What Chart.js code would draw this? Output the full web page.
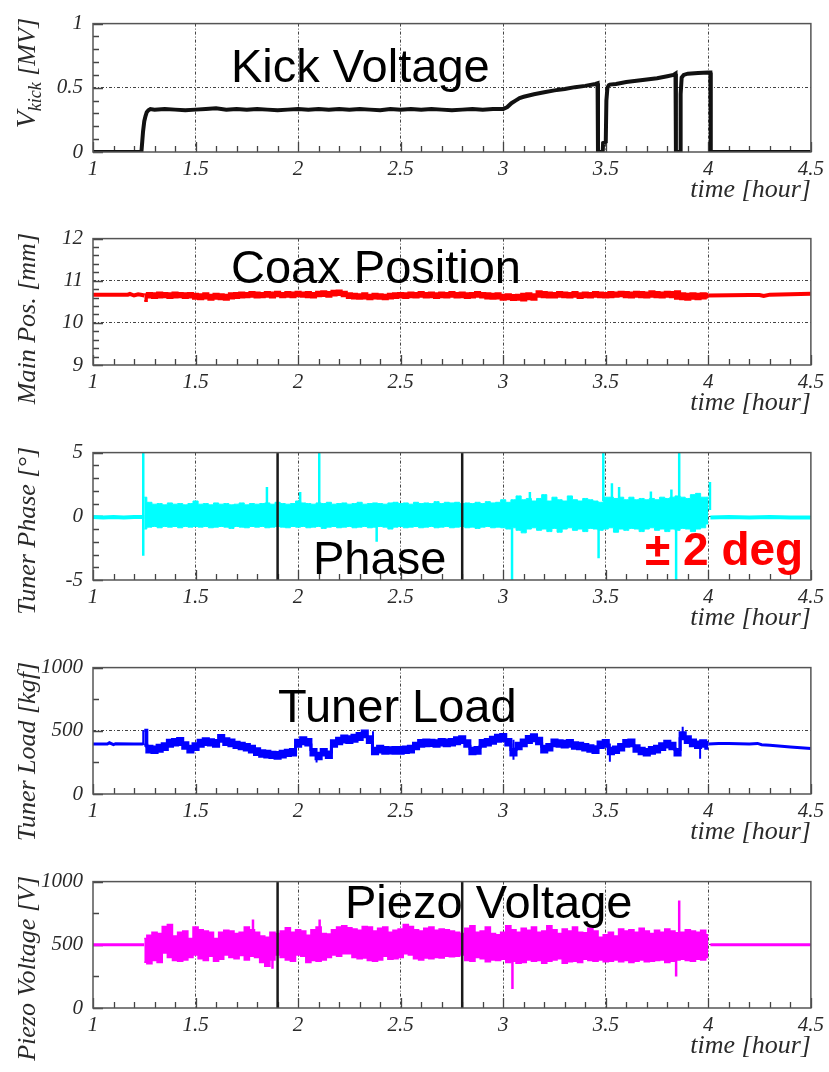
<!DOCTYPE html>
<html><head><meta charset="utf-8">
<script src="https://cdn.jsdelivr.net/npm/chart.js@4.4.0/dist/chart.umd.min.js"></script>
<style>
html,body{margin:0;padding:0;background:#fff;width:829px;height:1072px;overflow:hidden;position:relative;}
canvas{position:absolute;left:0;}
</style></head><body>
<script>
// ---------- DATA ----------
const xTickValues = [1,1.5,2,2.5,3,3.5,4,4.5];
const xTickLabels = ['1','1.5','2','2.5','3','3.5','4','4.5'];
const markerTimes = [1.9, 2.8];

const panelTitles = ['Kick Voltage','Coax Position','Phase','Tuner Load','Piezo Voltage'];
const phaseNote = '\u00B1 2 deg';
const xTitle = 'time [hour]';

// Panel 1: kick voltage
const kickYTicks = [0,0.5,1];
const kickYLabels = ['0','0.5','1'];
const kickTimes = [1.0,1.236,1.240,1.244,1.250,1.256,1.262,1.270,1.28,1.3,
 1.35,1.4,1.45,1.5,1.55,1.6,1.65,1.7,1.75,1.8,1.85,1.9,1.95,2.0,2.05,2.1,2.15,2.2,2.25,2.3,2.35,2.4,2.45,2.5,2.55,2.6,2.65,2.7,2.75,2.8,2.85,2.9,2.95,
 3.0,3.02,3.04,3.06,3.08,3.1,3.15,3.2,3.25,3.3,3.35,3.4,3.45,
 3.46,3.462,3.485,3.487,3.5,3.503,3.508,3.515,3.52,
 3.55,3.6,3.65,3.7,3.75,3.8,3.83,3.84,3.842,3.862,3.865,3.87,3.88,3.9,3.95,4.0,4.01,4.012,4.5];
const kickValues = [0,0,0.08,0.16,0.24,0.28,0.31,0.325,0.335,0.33,
 0.335,0.33,0.325,0.33,0.335,0.34,0.33,0.335,0.33,0.335,0.33,0.325,0.33,0.335,0.33,0.335,0.33,0.335,0.33,0.335,0.33,0.325,0.335,0.33,0.335,0.33,0.335,0.33,0.325,0.33,0.335,0.33,0.335,
 0.335,0.35,0.38,0.40,0.42,0.43,0.45,0.465,0.48,0.49,0.505,0.515,0.53,
 0.535,0,0,0.07,0.08,0.4,0.5,0.52,0.525,
 0.53,0.545,0.555,0.565,0.575,0.59,0.6,0.61,0,0,0.45,0.58,0.6,0.61,0.615,0.62,0.62,0,0];

// common sampling times of the noisy sections
const sampleTimes = [
 1.25,1.275,1.3,1.325,1.35,1.375,1.4,1.425,1.45,1.475,
 1.5,1.525,1.55,1.575,1.6,1.625,1.65,1.675,1.7,1.725,
 1.75,1.775,1.8,1.825,1.85,1.875,1.9,1.925,1.95,1.975,
 2,2.025,2.05,2.075,2.1,2.125,2.15,2.175,2.2,2.225,
 2.25,2.275,2.3,2.325,2.35,2.375,2.4,2.425,2.45,2.475,
 2.5,2.525,2.55,2.575,2.6,2.625,2.65,2.675,2.7,2.725,
 2.75,2.775,2.8,2.825,2.85,2.875,2.9,2.925,2.95,2.975,
 3,3.025,3.05,3.075,3.1,3.125,3.15,3.175,3.2,3.225,
 3.25,3.275,3.3,3.325,3.35,3.375,3.4,3.425,3.45,3.475,
 3.5,3.525,3.55,3.575,3.6,3.625,3.65,3.675,3.7,3.725,
 3.75,3.775,3.8,3.825,3.85,3.875,3.9,3.925,3.95,3.975,
 4];

// Panel 2: coax position
const coaxYTicks = [9,10,11,12];
const coaxYLabels = ['9','10','11','12'];
const coaxPreTimes = [1.0,1.17,1.18,1.2,1.22,1.24,1.25];
const coaxPreValues = [10.67,10.67,10.69,10.65,10.68,10.66,10.65];
const coaxPostTimes = [4.0,4.1,4.2,4.25,4.27,4.3,4.4,4.5];
const coaxPostValues = [10.65,10.655,10.66,10.66,10.64,10.67,10.68,10.69];
const coaxHi = [
 10.68,10.71,10.70,10.72,10.71,10.70,10.72,10.71,10.70,10.71,
 10.69,10.68,10.70,10.67,10.69,10.68,10.67,10.70,10.71,10.72,
 10.71,10.73,10.72,10.71,10.73,10.72,10.74,10.71,10.73,10.72,
 10.74,10.72,10.73,10.71,10.74,10.75,10.73,10.76,10.77,10.74,
 10.70,10.69,10.68,10.70,10.67,10.69,10.68,10.67,10.69,10.70,
 10.71,10.70,10.72,10.71,10.73,10.71,10.72,10.70,10.72,10.71,
 10.73,10.71,10.72,10.70,10.71,10.73,10.71,10.70,10.69,10.70,
 10.67,10.68,10.66,10.67,10.69,10.70,10.68,10.75,10.73,10.72,
 10.71,10.73,10.72,10.71,10.73,10.70,10.72,10.71,10.73,10.72,
 10.71,10.73,10.72,10.74,10.73,10.72,10.74,10.73,10.72,10.75,
 10.73,10.72,10.74,10.73,10.75,10.70,10.69,10.70,10.69,10.70,
 10.69];
const coaxLo = [
 10.52,10.60,10.59,10.60,10.61,10.59,10.60,10.61,10.59,10.60,
 10.57,10.56,10.58,10.55,10.57,10.56,10.55,10.58,10.59,10.60,
 10.61,10.62,10.60,10.61,10.62,10.60,10.63,10.61,10.62,10.61,
 10.63,10.62,10.61,10.60,10.63,10.64,10.62,10.65,10.66,10.63,
 10.59,10.58,10.57,10.58,10.56,10.58,10.57,10.56,10.58,10.59,
 10.60,10.59,10.61,10.60,10.62,10.60,10.61,10.59,10.61,10.60,
 10.62,10.60,10.61,10.59,10.60,10.62,10.60,10.58,10.57,10.58,
 10.55,10.56,10.54,10.55,10.53,10.56,10.55,10.62,10.61,10.60,
 10.60,10.62,10.61,10.60,10.62,10.59,10.61,10.60,10.62,10.61,
 10.60,10.61,10.62,10.63,10.61,10.60,10.62,10.61,10.60,10.62,
 10.61,10.60,10.62,10.61,10.57,10.56,10.55,10.57,10.56,10.58,
 10.60];

// Panel 3: tuner phase
const phaseYTicks = [-5,0,5];
const phaseYLabels = ['-5','0','5'];
const phasePreTimes = [1.0,1.05,1.1,1.15,1.2,1.25];
const phasePreValues = [-0.05,-0.1,-0.05,-0.1,-0.05,-0.05];
const phasePostTimes = [4.01,4.1,4.2,4.3,4.4,4.5];
const phasePostValues = [-0.1,-0.05,-0.1,-0.05,-0.1,-0.1];
const phaseHi = [
 1.5,1.1,0.95,1.0,0.9,1.05,0.95,1.0,0.9,1.0,
 1.2,0.95,1.0,0.9,1.05,0.95,1.0,0.9,0.95,1.05,
 0.9,1.0,0.95,1.0,1.05,0.95,1.1,1.0,0.95,1.0,
 1.2,1.05,1.0,0.95,1.05,1.0,1.1,0.95,1.0,1.05,
 0.95,1.0,1.1,0.95,1.0,1.05,1.0,0.95,1.05,1.1,
 1.0,1.05,0.95,1.1,1.0,1.05,1.0,1.15,1.0,1.1,
 1.05,1.1,1.0,1.05,1.0,1.1,1.0,1.15,1.05,1.1,
 1.3,1.1,1.3,1.6,1.3,1.4,1.2,1.4,1.7,1.2,
 1.5,1.3,1.2,1.6,1.3,1.2,1.4,1.3,1.2,1.1,
 1.5,1.5,1.4,1.5,1.3,1.5,1.3,1.4,1.3,1.4,
 1.3,1.5,1.4,1.5,1.6,1.5,1.4,1.7,1.8,1.5,
 1.5];
const phaseLo = [
 -1.0,-0.85,-0.8,-0.9,-0.8,-0.85,-0.8,-0.9,-0.8,-0.85,
 -0.8,-0.85,-0.8,-0.9,-0.85,-0.8,-0.85,-0.95,-0.8,-0.85,
 -0.9,-0.8,-0.85,-0.8,-0.9,-0.85,-0.8,-0.85,-0.9,-0.8,
 -0.85,-0.8,-0.9,-0.85,-0.8,-0.95,-0.85,-0.8,-0.9,-0.85,
 -0.8,-0.9,-0.85,-0.8,-0.9,-0.85,-0.8,-0.85,-1.0,-0.85,
 -0.8,-0.9,-0.85,-0.8,-0.9,-0.85,-0.8,-0.9,-0.85,-0.8,
 -0.9,-0.85,-0.8,-0.9,-0.85,-0.95,-0.85,-0.8,-0.9,-0.85,
 -0.9,-1.0,-0.9,-1.1,-1.3,-1.0,-0.9,-1.1,-1.0,-1.2,
 -0.95,-1.25,-1.0,-0.9,-1.1,-1.0,-1.2,-0.95,-1.0,-1.1,
 -1.0,-0.9,-1.25,-1.0,-1.1,-0.95,-1.0,-1.2,-1.0,-0.9,
 -1.1,-1.0,-1.2,-1.0,-1.1,-0.95,-1.0,-1.2,-1.0,-0.9,
 -0.6];
const phaseSpikeTimes = [1.245,1.848,2.01,2.103,2.383,3.043,3.13,3.465,3.488,3.53,3.565,3.72,3.82,3.843,3.858,4.008];
const phaseSpikeLo    = [-3.1,0.9,0.9,0.9,-2.0,-5,1.2,-3.3,1.2,1.4,1.4,1.3,1.4,-5,1.5,0.5];
const phaseSpikeHi    = [5,2.3,1.9,5,-0.8,-0.9,1.9,-0.9,5,2.6,2.3,1.95,2.1,-1.0,5,2.7];

// Panel 4: tuner load
const loadYTicks = [0,500,1000];
const loadYLabels = ['0','500','1000'];
const loadPreTimes = [1.0,1.07,1.08,1.1,1.11,1.2,1.24,1.25];
const loadPreValues = [395,395,405,390,398,395,395,400];
const loadPostTimes = [4.0,4.05,4.1,4.2,4.24,4.26,4.3,4.4,4.5];
const loadPostValues = [395,400,400,395,400,390,385,372,360];
const loadHi = [
 505,378,372,385,398,425,432,440,405,378,
 398,425,438,430,424,462,438,428,410,402,
 392,378,358,342,338,330,328,338,346,352,
 425,445,432,352,322,352,332,422,442,458,
 452,464,478,498,452,362,378,368,366,368,
 368,372,378,402,424,428,426,422,432,428,
 432,445,452,422,362,368,424,432,448,464,
 470,432,352,402,428,455,468,442,378,392,
 428,422,418,424,406,402,392,382,374,412,
 424,362,372,392,424,428,382,362,352,368,
 378,398,418,402,352,485,452,428,412,422,
 408];
const loadLo = [
 385,332,328,338,352,378,388,392,362,332,
 352,378,392,388,378,418,392,382,368,358,
 348,332,312,298,292,288,282,292,304,308,
 378,398,388,308,278,308,288,378,398,412,
 408,418,432,452,408,318,332,322,324,322,
 322,328,332,358,378,382,384,378,388,382,
 388,398,408,378,318,322,378,388,402,418,
 422,388,308,358,382,408,422,398,332,348,
 382,378,372,378,362,358,348,338,328,368,
 378,318,328,348,378,382,338,318,308,322,
 332,352,372,358,308,438,408,382,368,378,
 362];
const loadSpikeTimes = [1.245,2.09,2.365,3.05,3.52,3.875,3.96];
const loadSpikeLo    = [390,250,430,270,255,430,278];
const loadSpikeHi    = [505,330,496,430,400,533,420];

// Panel 5: piezo voltage
const piezoYTicks = [0,500,1000];
const piezoYLabels = ['0','500','1000'];
const piezoPreTimes = [1.0,1.25];
const piezoPreValues = [500,500];
const piezoPostTimes = [4.01,4.5];
const piezoPostValues = [500,500];
const piezoHi = [
 549,575,600,590,645,660,570,600,610,550,
 640,620,610,600,550,600,615,610,590,600,
 640,620,600,570,560,600,590,610,635,600,
 620,610,575,620,640,590,585,620,640,650,
 635,625,615,645,640,610,630,640,600,615,
 625,660,645,620,610,630,640,615,625,620,
 610,600,590,630,650,600,610,640,590,580,
 600,650,620,600,630,615,640,600,610,650,
 620,590,625,610,640,600,595,630,610,560,
 580,600,570,625,610,620,600,630,610,590,
 615,600,625,610,595,600,620,610,600,615,
 580];
const piezoLo = [
 361,350,375,360,436,400,375,370,380,400,
 420,390,375,410,370,385,420,400,390,415,
 380,410,400,360,330,380,420,400,380,370,
 420,410,360,375,370,380,400,420,410,430,
 430,400,390,395,375,370,380,410,385,390,
 400,430,420,390,380,395,390,400,395,410,
 405,410,420,375,370,400,390,365,380,375,
 385,360,370,355,360,380,370,375,355,370,
 380,390,355,365,370,360,385,375,370,380,
 365,370,380,365,375,360,370,380,365,370,
 375,380,360,370,380,385,375,370,385,380,
 400];
const piezoSpikeTimes = [1.78,1.875,2.105,3.045,3.843,3.858];
const piezoSpikeLo    = [600,310,600,150,250,600];
const piezoSpikeHi    = [700,420,700,400,400,850];

// ---------- BUILDERS ----------
function pts(xs, ys){ return xs.map((x,i)=>({x:x, y:ys[i]})); }
function lineDs(xs, ys, color, width, order){
  return {data: pts(xs, ys), borderColor: color, backgroundColor: color, borderWidth: width,
    pointRadius: 0, fill: false, tension: 0, order: order};
}
function bandDs(xs, hi, lo, color, width, order){
  return [
    {data: pts(xs, hi), borderColor: color, backgroundColor: color, borderWidth: width, pointRadius: 0, fill: '+1', stepped: 'middle', order: order},
    {data: pts(xs, lo), borderColor: color, backgroundColor: color, borderWidth: width, pointRadius: 0, fill: false, stepped: 'middle', order: order}
  ];
}
function spikeDs(ts, lo, hi, color, width, order){
  const d = [];
  ts.forEach((t,i)=>{ d.push({x:t, y:lo[i]}, {x:t, y:hi[i]}, {x:t, y:null}); });
  return {data: d, borderColor: color, backgroundColor: color, borderWidth: width, pointRadius: 0, fill: false, spanGaps: false, order: order};
}
function markerDs(ts, yMin, yMax){
  const d = [];
  ts.forEach(t=>{ d.push({x:t, y:yMin}, {x:t, y:yMax}, {x:t, y:null}); });
  return {data: d, borderColor: '#1a1a1a', borderWidth: 2.5, pointRadius: 0, fill: false, spanGaps: false, order: -1};
}

// ---------- PLUGIN ----------
const SERIF = '"Liberation Serif", "Times New Roman", serif';
const SANS = '"Liberation Sans", Arial, sans-serif';
const rootPlugin = {
  id: 'root',
  beforeDatasetsDraw(chart, args, o){
    const {ctx, chartArea: a, scales: {x, y}} = chart;
    ctx.save();
    ctx.strokeStyle = '#444'; ctx.lineWidth = 1.3;
    ctx.beginPath();
    const nx = Math.round((x.max - x.min)/o.xMinor);
    for (let i=0;i<=nx;i++){
      const v = x.min + i*o.xMinor;
      const px = Math.round(x.getPixelForValue(v)) + 0.5;
      const major = Math.abs(v/o.xMajor - Math.round(v/o.xMajor)) < 1e-6;
      ctx.moveTo(px, a.bottom); ctx.lineTo(px, a.bottom - (major ? 10 : 6));
    }
    const ny = Math.round((y.max - y.min)/o.yMinor);
    for (let i=0;i<=ny;i++){
      const v = y.min + i*o.yMinor;
      const py = Math.round(y.getPixelForValue(v)) + 0.5;
      const major = Math.abs(v/o.yMajor - Math.round(v/o.yMajor)) < 1e-6;
      ctx.moveTo(a.left, py); ctx.lineTo(a.left + (major ? 10 : 6), py);
    }
    ctx.stroke();
    ctx.restore();
  },
  afterDatasetsDraw(chart, args, o){
    const {ctx, chartArea: a} = chart;
    ctx.save();
    ctx.strokeStyle = '#555'; ctx.lineWidth = 1.5;
    ctx.strokeRect(a.left, a.top, a.right - a.left, a.bottom - a.top);
    (o.labels || []).forEach(l=>{
      ctx.font = l.font; ctx.fillStyle = l.color; ctx.textAlign = 'left'; ctx.textBaseline = 'alphabetic';
      ctx.fillText(l.text, l.x, l.y - o.canvasTop);
    });
    const parts = o.yTitle;
    let total = 0;
    parts.forEach(p=>{ ctx.font = 'italic ' + p.size + 'px ' + SERIF; total += ctx.measureText(p.t).width; });
    ctx.translate(o.yTitleX, o.yTitleEnd - o.canvasTop);
    ctx.rotate(-Math.PI/2);
    ctx.fillStyle = '#2a2a2a'; ctx.textAlign = 'left'; ctx.textBaseline = 'middle';
    let cur = -total;
    parts.forEach(p=>{
      ctx.font = 'italic ' + p.size + 'px ' + SERIF;
      ctx.fillText(p.t, cur, p.dy || 0);
      cur += ctx.measureText(p.t).width;
    });
    ctx.restore();
  }
};

// ---------- CHART FACTORY ----------
const PAD_TOP = 16, XAXIS_H = 56, PAD_BOTTOM = 12;
function makePanel(geom, datasets, yCfg, labels, yTitle){
  const canvasTop = geom.top - PAD_TOP;
  const h = (geom.bottom - geom.top) + PAD_TOP + XAXIS_H + PAD_BOTTOM;
  const cv = document.createElement('canvas');
  cv.width = 829; cv.height = h;
  cv.style.top = canvasTop + 'px';
  cv.style.width = '829px'; cv.style.height = h + 'px';
  document.body.appendChild(cv);
  const tickFont = {family: SERIF, style: 'italic', size: 21};
  new Chart(cv, {
    type: 'line',
    data: {datasets: datasets},
    options: {
      responsive: false, animation: false, devicePixelRatio: 1, events: [],
      layout: {padding: {left: 0, right: 17, top: PAD_TOP, bottom: PAD_BOTTOM}},
      plugins: {
        legend: {display: false}, tooltip: {enabled: false},
        root: {xMinor: 0.1, xMajor: 0.5, yMinor: yCfg.minor, yMajor: yCfg.major,
               labels: labels, canvasTop: canvasTop, yTitle: yTitle, yTitleX: 28, yTitleEnd: geom.top + 1}
      },
      scales: {
        x: {
          type: 'linear', min: 1, max: 4.5,
          afterBuildTicks: s => { s.ticks = xTickValues.map(v => ({value: v})); },
          afterFit: s => { s.height = XAXIS_H; },
          ticks: {autoSkip: false, maxRotation: 0, padding: 5, font: tickFont, color: '#2a2a2a',
                  callback: (v, i) => xTickLabels[i]},
          grid: {drawTicks: false, lineWidth: 1,
                 color: c => (c.index > 0 && c.index < xTickValues.length - 1) ? '#444' : 'rgba(0,0,0,0)'},
          border: {display: false, dash: [3, 2, 1, 2]},
          title: {display: true, text: xTitle, align: 'end', color: '#2a2a2a',
                  font: {family: SERIF, style: 'italic', size: 26}, padding: {top: 0, bottom: 2}}
        },
        y: {
          type: 'linear', min: yCfg.min, max: yCfg.max,
          afterBuildTicks: s => { s.ticks = yCfg.ticks.map(v => ({value: v})); },
          afterFit: s => { s.width = 93; },
          ticks: {autoSkip: false, padding: 10, font: tickFont, color: '#2a2a2a',
                  callback: (v, i) => yCfg.labels[i]},
          grid: {drawTicks: false, lineWidth: 1,
                 color: c => (c.index > 0 && c.index < yCfg.ticks.length - 1) ? '#444' : 'rgba(0,0,0,0)'},
          border: {display: false, dash: [3, 2, 1, 2]}
        }
      }
    },
    plugins: [rootPlugin]
  });
}

const geoms = [
  {top: 17, bottom: 152}, {top: 232, bottom: 365}, {top: 446, bottom: 580},
  {top: 661, bottom: 794}, {top: 875, bottom: 1008}
];
const TITLE_FONT = '47px ' + SANS;

makePanel(geoms[0],
  [lineDs(kickTimes, kickValues, '#111', 4, 1)],
  {min: 0, max: 1, ticks: kickYTicks, labels: kickYLabels, minor: 0.1, major: 0.5},
  [{text: panelTitles[0], x: 231, y: 82, font: TITLE_FONT, color: '#000'}],
  [{t: 'V', size: 28, dy: 0}, {t: 'kick', size: 18, dy: 8}, {t: ' [MV]', size: 26, dy: 0}]);

makePanel(geoms[1],
  [lineDs(coaxPreTimes, coaxPreValues, '#ff0000', 4, 2),
   ...bandDs(sampleTimes, coaxHi, coaxLo, '#ff0000', 2, 2),
   lineDs(coaxPostTimes, coaxPostValues, '#ff0000', 4, 2)],
  {min: 9, max: 12, ticks: coaxYTicks, labels: coaxYLabels, minor: 0.2, major: 1},
  [{text: panelTitles[1], x: 231, y: 283, font: TITLE_FONT, color: '#000'}],
  [{t: 'Main Pos. [mm]', size: 26, dy: 0}]);

makePanel(geoms[2],
  [markerDs(markerTimes, -5, 5),
   spikeDs(phaseSpikeTimes, phaseSpikeLo, phaseSpikeHi, '#00ffff', 2.5, 1),
   lineDs(phasePreTimes, phasePreValues, '#00ffff', 4, 2),
   ...bandDs(sampleTimes, phaseHi, phaseLo, '#00ffff', 1, 2),
   lineDs(phasePostTimes, phasePostValues, '#00ffff', 4, 2)],
  {min: -5, max: 5, ticks: phaseYTicks, labels: phaseYLabels, minor: 1, major: 5},
  [{text: panelTitles[2], x: 313, y: 574, font: TITLE_FONT, color: '#000'},
   {text: phaseNote, x: 645, y: 565, font: 'bold 46px ' + SANS, color: '#ff0000'}],
  [{t: 'Tuner Phase [\u00B0]', size: 26, dy: 0}]);

makePanel(geoms[3],
  [spikeDs(loadSpikeTimes, loadSpikeLo, loadSpikeHi, '#0000ff', 2, 1),
   lineDs(loadPreTimes, loadPreValues, '#0000ff', 3, 2),
   ...bandDs(sampleTimes, loadHi, loadLo, '#0000ff', 3, 2),
   lineDs(loadPostTimes, loadPostValues, '#0000ff', 3, 2)],
  {min: 0, max: 1000, ticks: loadYTicks, labels: loadYLabels, minor: 250, major: 500},
  [{text: panelTitles[3], x: 278, y: 722, font: TITLE_FONT, color: '#000'}],
  [{t: 'Tuner Load [kgf]', size: 26, dy: 0}]);

makePanel(geoms[4],
  [markerDs(markerTimes, 0, 1000),
   spikeDs(piezoSpikeTimes, piezoSpikeLo, piezoSpikeHi, '#ff00ff', 2.5, 1),
   lineDs(piezoPreTimes, piezoPreValues, '#ff00ff', 3, 2),
   ...bandDs(sampleTimes, piezoHi, piezoLo, '#ff00ff', 1.5, 2),
   lineDs(piezoPostTimes, piezoPostValues, '#ff00ff', 3, 2)],
  {min: 0, max: 1000, ticks: piezoYTicks, labels: piezoYLabels, minor: 250, major: 500},
  [{text: panelTitles[4], x: 345, y: 918, font: TITLE_FONT, color: '#000'}],
  [{t: 'Piezo Voltage [V]', size: 26, dy: 0}]);
</script>
</body></html>
